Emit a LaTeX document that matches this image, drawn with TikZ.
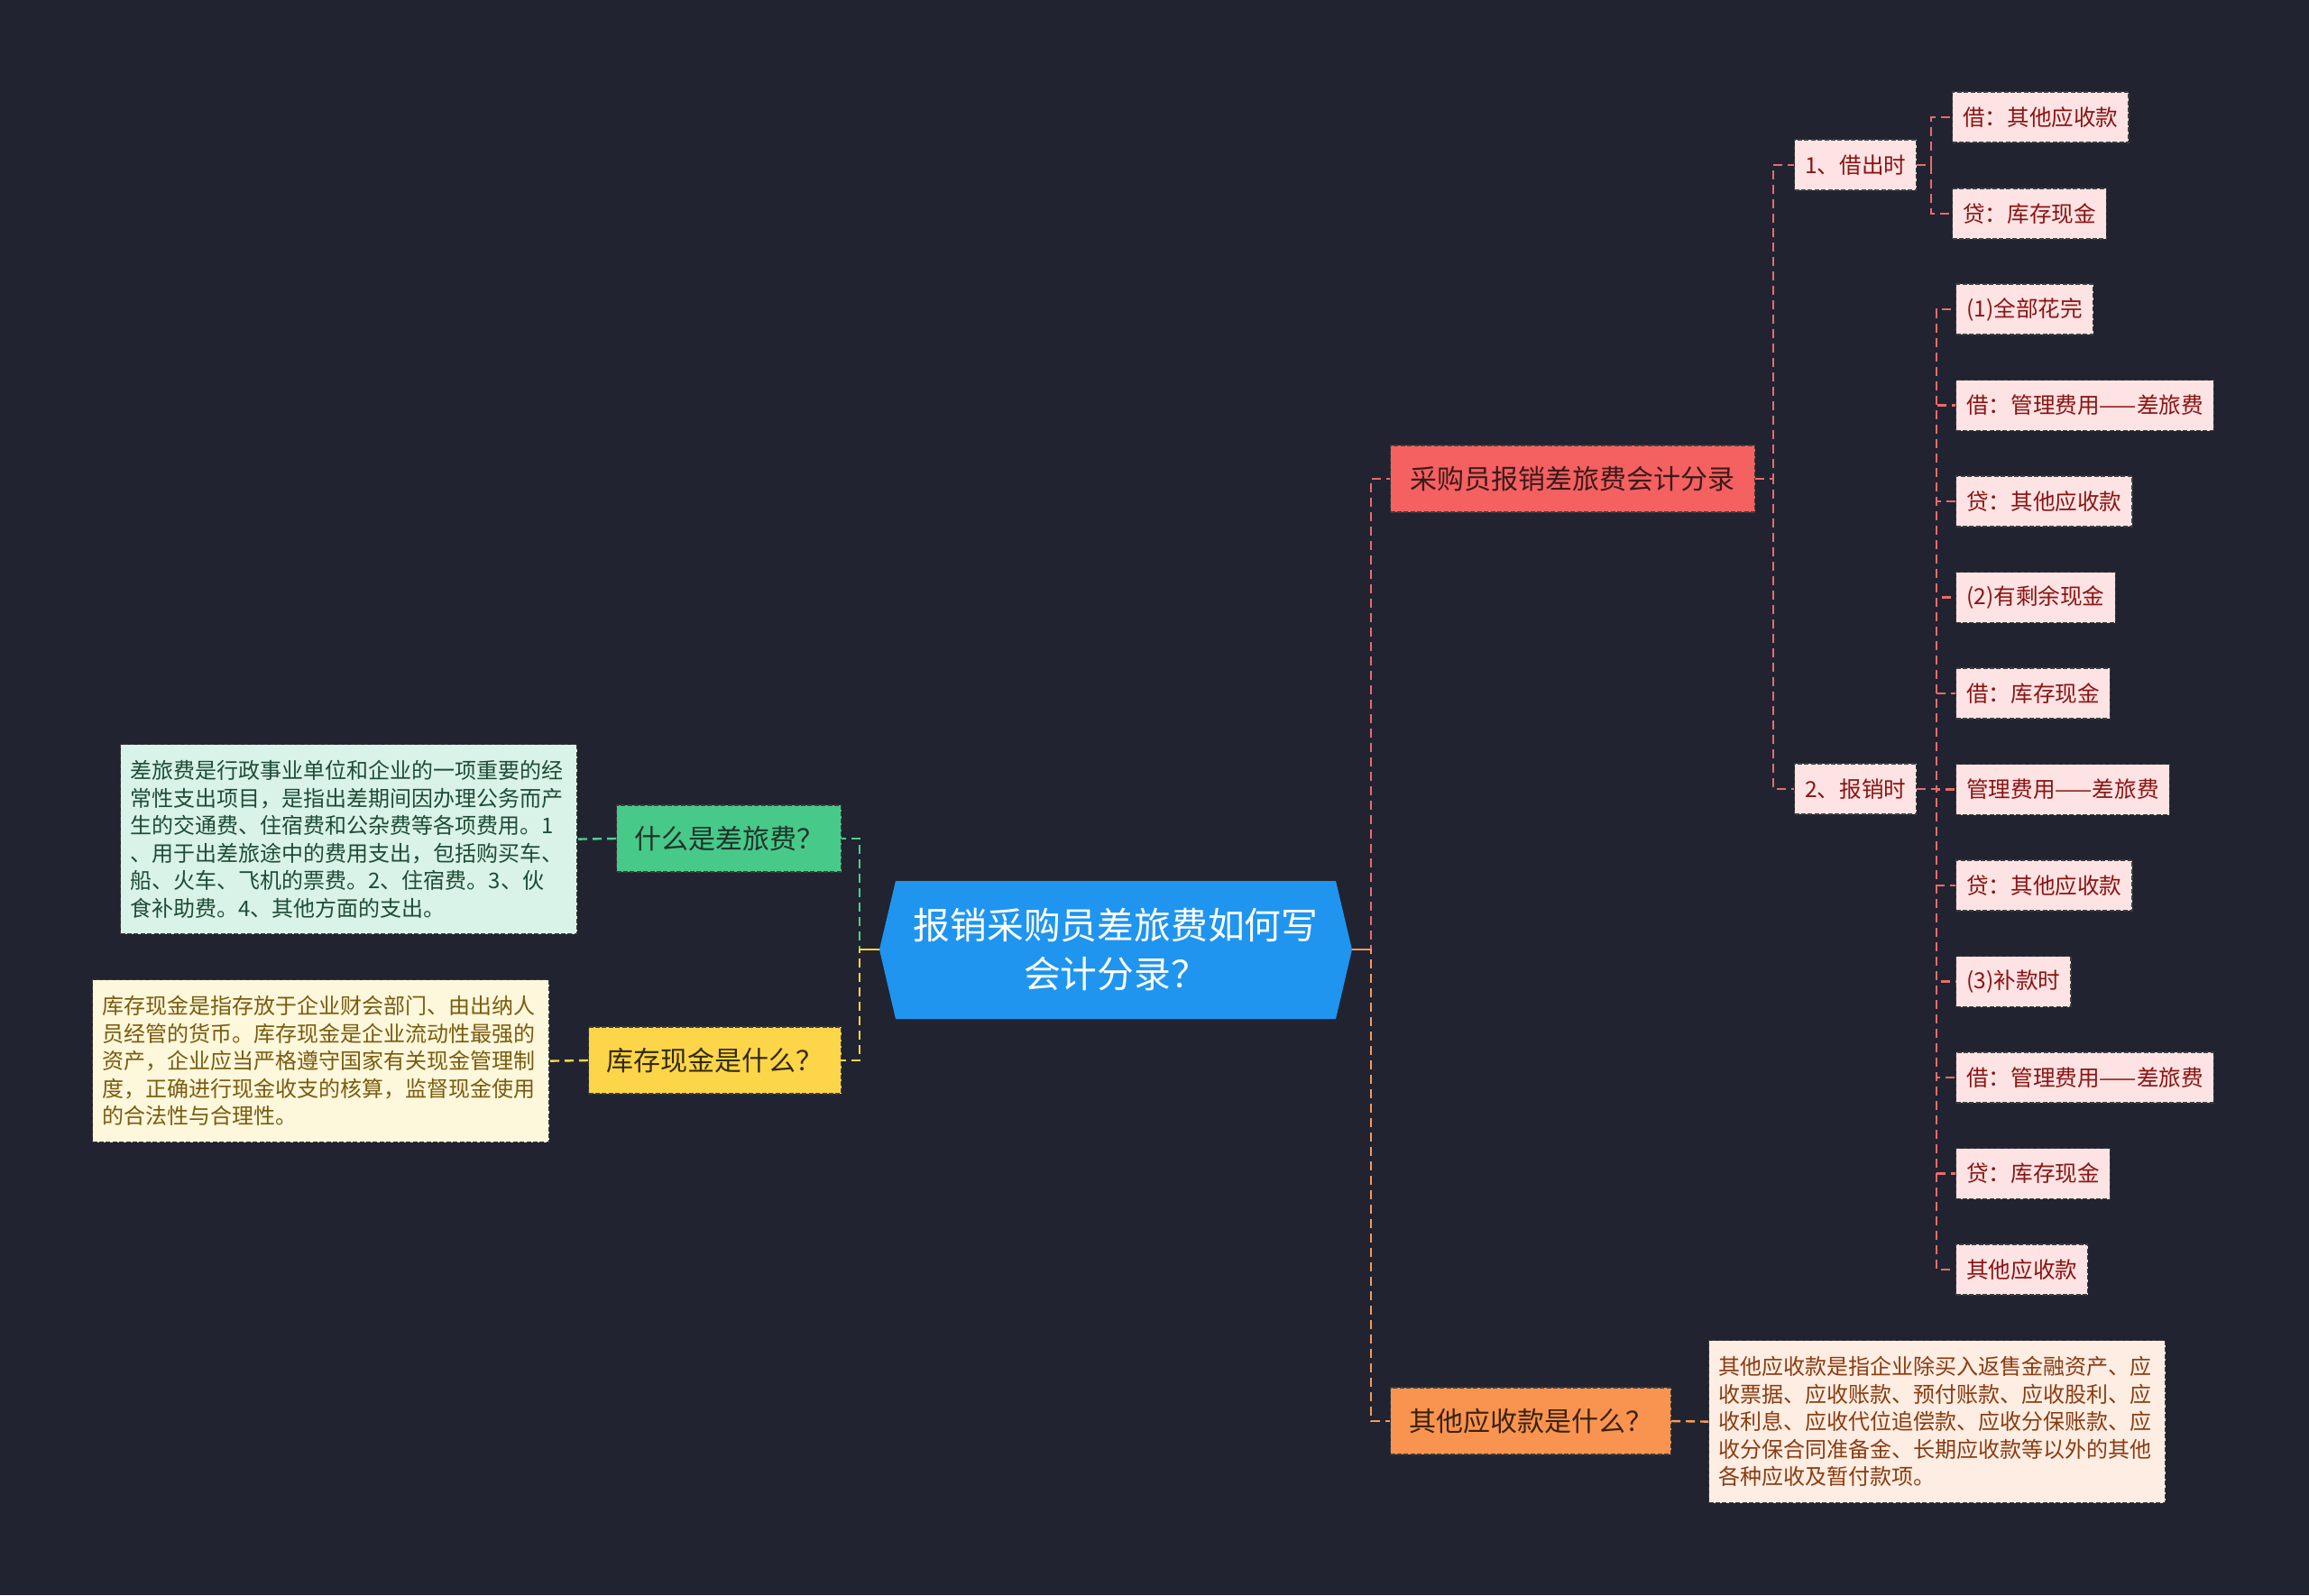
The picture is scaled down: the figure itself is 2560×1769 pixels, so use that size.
\documentclass[tikz,border=0pt]{standalone}
\usepackage{fontspec}
\setmainfont{Noto Sans CJK SC}
\usetikzlibrary{calc}
\definecolor{bgc}{HTML}{212430}
\definecolor{cblue}{HTML}{1F95EF}
\definecolor{cgreen}{HTML}{47C98A}
\definecolor{tgreen}{HTML}{1E3328}
\definecolor{dgreen}{HTML}{DAF3E8}
\definecolor{tdgreen}{HTML}{1E4D36}
\definecolor{cyellow}{HTML}{FDD548}
\definecolor{tyellow}{HTML}{332A10}
\definecolor{dyellow}{HTML}{FDF7DC}
\definecolor{tdyellow}{HTML}{7A5C0E}
\definecolor{cred}{HTML}{F56060}
\definecolor{tred}{HTML}{3B1A1A}
\definecolor{cpink}{HTML}{FDE3E3}
\definecolor{tpink}{HTML}{8B1414}
\definecolor{corange}{HTML}{F99450}
\definecolor{torange}{HTML}{3A220F}
\definecolor{dorange}{HTML}{FDEDE2}
\definecolor{tdorange}{HTML}{8A3C12}
\definecolor{lgreen}{HTML}{4CCF8C}
\definecolor{lyellow}{HTML}{FDD548}
\definecolor{lred}{HTML}{E86C6C}
\definecolor{lorange}{HTML}{F59A5A}
\definecolor{nborder}{HTML}{3C3C3C}
\pgfdeclarelayer{canvas}
\pgfdeclarelayer{back}
\pgfsetlayers{canvas,back,main}
\begin{document}
\begin{tikzpicture}[x=0.5pt,y=-0.5pt,
  nbord/.style={draw=nborder, dash pattern=on 2.5pt off 1.2pt, line width=0.6pt},
  mainnode/.style={nbord, rectangle, inner sep=0pt, minimum height=37pt, anchor=west, font=\fontsize{15pt}{18pt}\selectfont},
  descbox/.style={nbord, rectangle, inner xsep=5.5pt, inner ysep=0pt, text width=242pt, align=left, anchor=north west, font=\fontsize{12pt}{15.25pt}\selectfont},
  leafbox/.style={nbord, rectangle, fill=cpink, text=tpink, inner xsep=5.8pt, inner ysep=0pt, minimum height=28pt, anchor=west, font=\fontsize{12.3pt}{15pt}\selectfont},
  conn/.style={dash pattern=on 5pt off 3pt, line width=1.2pt},
  stub/.style={line width=1.2pt}
]
\useasboundingbox (0,0) rectangle (2560,1769);
\begin{pgfonlayer}{canvas}
\fill[bgc] (0,0) rectangle (2560,1769);
\end{pgfonlayer}

% centre
\node[text=white, align=center, font=\fontsize{20.4pt}{27pt}\selectfont] (ctr) at (1237,1053) {报销采购员差旅费如何写\\会计分录？};
\coordinate (ctrL) at (975,1053);
\coordinate (ctrR) at (1499,1053);
\begin{pgfonlayer}{back}
\fill[cblue] (ctrL) -- (993,977) -- (1481,977) -- (ctrR) -- (1481,1130) -- (993,1130) -- cycle;
\end{pgfonlayer}

% junction columns
\coordinate (VL) at (953,0);
\coordinate (VR) at (1520,0);
\coordinate (V0) at (1966,0);
\coordinate (V1) at (2141,0);
\coordinate (V2) at (2147,0);

% first level
\node[mainnode, fill=cgreen, text=tgreen, minimum width=124.5pt] (q1) at (683,930) {什么是差旅费？};
\node[mainnode, fill=cyellow, text=tyellow, minimum width=140pt] (q2) at (652,1176) {库存现金是什么？};
\node[mainnode, fill=cred, text=tred, minimum width=202pt] (q3) at (1541,531) {采购员报销差旅费会计分录};
\node[mainnode, fill=corange, text=torange, minimum width=155.5pt] (q4) at (1541,1576) {其他应收款是什么？};

% descriptions
\node[descbox, fill=dgreen, text=tdgreen, minimum height=105pt] (d1) at (133,825) {差旅费是行政事业单位和企业的一项重要的经\\常性支出项目，是指出差期间因办理公务而产\\生的交通费、住宿费和公杂费等各项费用。1\\、用于出差旅途中的费用支出，包括购买车、\\船、火车、飞机的票费。2、住宿费。3、伙\\食补助费。4、其他方面的支出。};
\node[descbox, fill=dyellow, text=tdyellow, minimum height=90pt] (d2) at (102,1086) {库存现金是指存放于企业财会部门、由出纳人\\员经管的货币。库存现金是企业流动性最强的\\资产，企业应当严格遵守国家有关现金管理制\\度，正确进行现金收支的核算，监督现金使用\\的合法性与合理性。};
\node[descbox, fill=dorange, text=tdorange, minimum height=90pt] (d3) at (1894,1486) {其他应收款是指企业除买入返售金融资产、应\\收票据、应收账款、预付账款、应收股利、应\\收利息、应收代位追偿款、应收分保账款、应\\收分保合同准备金、长期应收款等以外的其他\\各种应收及暂付款项。};

% second level
\node[leafbox] (m1) at (1989,183) {1、借出时};
\node[leafbox] (m2) at (1989,875) {2、报销时};

% leaves
\node[leafbox] (a1) at (2164,130) {借：其他应收款};
\node[leafbox] (a2) at (2164,237) {贷：库存现金};
\node[leafbox] (b1) at (2168,343) {(1)全部花完};
\node[leafbox] (b2) at (2168,449.5) {借：管理费用——差旅费};
\node[leafbox] (b3) at (2168,556) {贷：其他应收款};
\node[leafbox] (b4) at (2168,662.5) {(2)有剩余现金};
\node[leafbox] (b5) at (2168,769) {借：库存现金};
\node[leafbox] (b6) at (2168,875.5) {管理费用——差旅费};
\node[leafbox] (b7) at (2168,982) {贷：其他应收款};
\node[leafbox] (b8) at (2168,1088.5) {(3)补款时};
\node[leafbox] (b9) at (2168,1195) {借：管理费用——差旅费};
\node[leafbox] (b10) at (2168,1301.5) {贷：库存现金};
\node[leafbox] (b11) at (2168,1408) {其他应收款};

% connectors
\draw[conn, lgreen] (ctrL) -- (ctrL -| VL) |- (q1.east);
\draw[conn, lyellow] (ctrL) -- (ctrL -| VL) |- (q2.east);
\draw[stub, lyellow] (ctrL) -- (ctrL -| VL);
\draw[conn, lred] (ctrR) -- (ctrR -| VR) |- (q3.west);
\draw[conn, lorange] (ctrR) -- (ctrR -| VR) |- (q4.west);
\draw[stub, lorange] (ctrR) -- (ctrR -| VR);
\draw[conn, lgreen] (q1.west) -- (d1.east);
\draw[conn, lyellow] (q2.west) -- (d2.east);
\draw[conn, lorange] (q4.east) -- (d3.west);
\draw[conn, lred] (q3.east) -- (q3.east -| V0) |- (m1.west);
\draw[conn, lred] (q3.east) -- (q3.east -| V0) |- (m2.west);
\foreach \c in {a1,a2}
  \draw[conn, lred] (m1.east) -- (m1.east -| V1) |- (\c.west);
\foreach \c in {b1,b2,b3,b4,b5,b6,b7,b8,b9,b10,b11}
  \draw[conn, lred] (m2.east) -- (m2.east -| V2) |- (\c.west);
\end{tikzpicture}
\end{document}
